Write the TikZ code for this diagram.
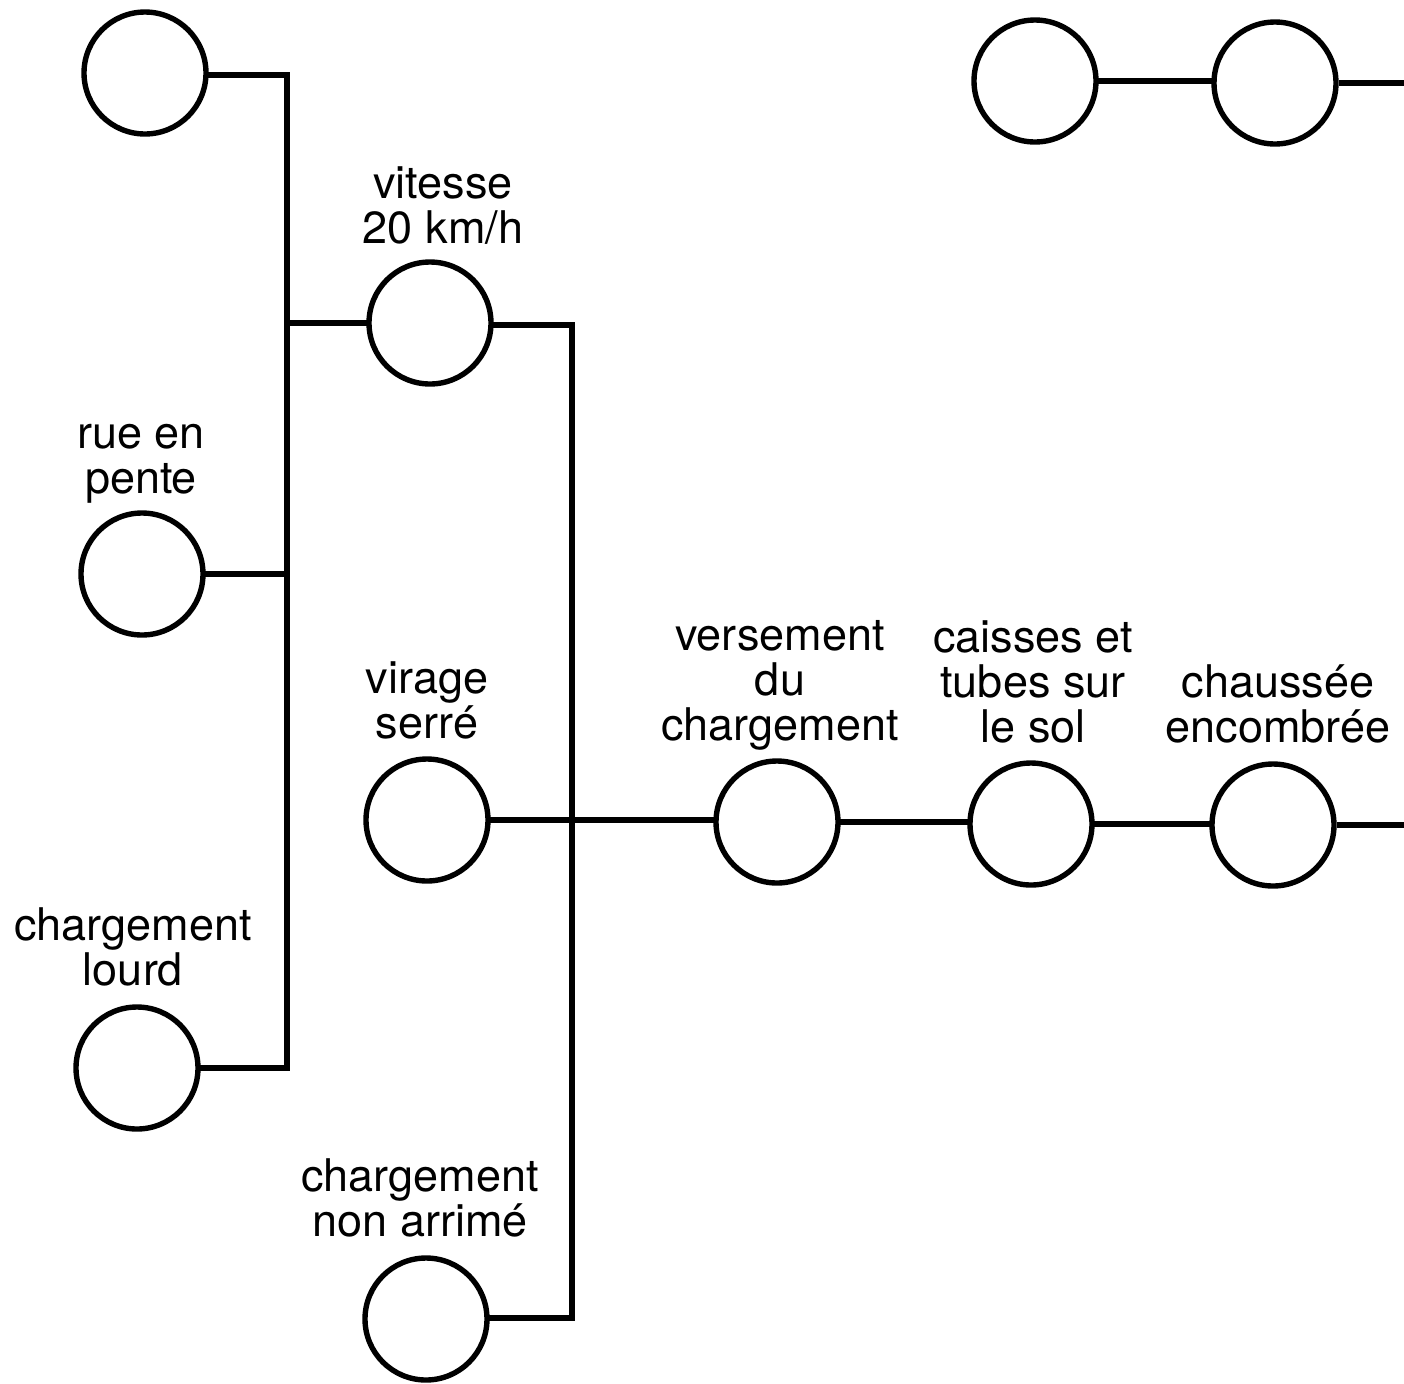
\documentclass[tikz,border=0pt]{standalone}
\usepackage{fontspec}
\setmainfont{TeX Gyre Heros}
\begin{document}
\begin{tikzpicture}[x=0.5pt,y=-0.5pt,
  evt/.style={circle,draw=black,line width=2.7pt,minimum size=61pt,inner sep=0pt,fill=white},
  lbl/.style={anchor=base,align=center,inner sep=0pt,font=\fontsize{22.5}{22.5}\selectfont},
  wire/.style={line width=2.7pt,line cap=rect}]
\useasboundingbox[fill=white] (0,0) rectangle (1404,1383);
% events
\node[evt] (A) at (145,73) {};
\node[evt] (B) at (430,323) {};
\node[evt] (C) at (142,574) {};
\node[evt] (D) at (427,820) {};
\node[evt] (E) at (137,1068) {};
\node[evt] (F) at (426,1319) {};
\node[evt] (G) at (777,822) {};
\node[evt] (H) at (1031,824) {};
\node[evt] (I) at (1273,825) {};
\node[evt] (J) at (1035,81) {};
\node[evt] (K) at (1275,83) {};
% labels
\node[lbl] (lB) at (443,243) {vitesse\\20 km/h};
\node[lbl] (lC) at (141,493) {rue en\\pente};
\node[lbl] (lD) at (427,738) {virage\\serré};
\node[lbl] (lE) at (133,985) {chargement\\lourd};
\node[lbl] (lF) at (420,1236) {chargement\\non arrimé};
\node[lbl] (lG) at (780,740) {versement\\du\\chargement};
\node[lbl] (lH) at (1033,742) {caisses et\\tubes sur\\le sol};
\node[lbl] (lI) at (1278,742) {chaussée\\encombrée};
% bus coordinates
\coordinate (LT) at (287,75);
\coordinate (LB) at (287,1068);
\coordinate (RT) at (572,325);
\coordinate (RB) at (572,1318);
\coordinate (Iout) at (1404,826);
\coordinate (Kout) at (1404,85);
% connectors
\draw[wire] (A.east |- LT) -- (LT) -- (LB) -- (E.east |- LB);
\draw[wire] (C.east) -- (C.east -| LT);
\draw[wire] (B.west) -- (B.west -| LT);
\draw[wire] (B.east |- RT) -- (RT) -- (RB) -- (F.east |- RB);
\draw[wire] (D.east) -- (D.east -| G.west);
\draw[wire] (G.east) -- (G.east -| H.west);
\draw[wire] (H.east) -- (H.east -| I.west);
\draw[line width=2.7pt] (I.east) -- (I.east -| Iout);
\draw[wire] (J.east) -- (J.east -| K.west);
\draw[line width=2.7pt] (K.east) -- (K.east -| Kout);
\end{tikzpicture}
\end{document}
